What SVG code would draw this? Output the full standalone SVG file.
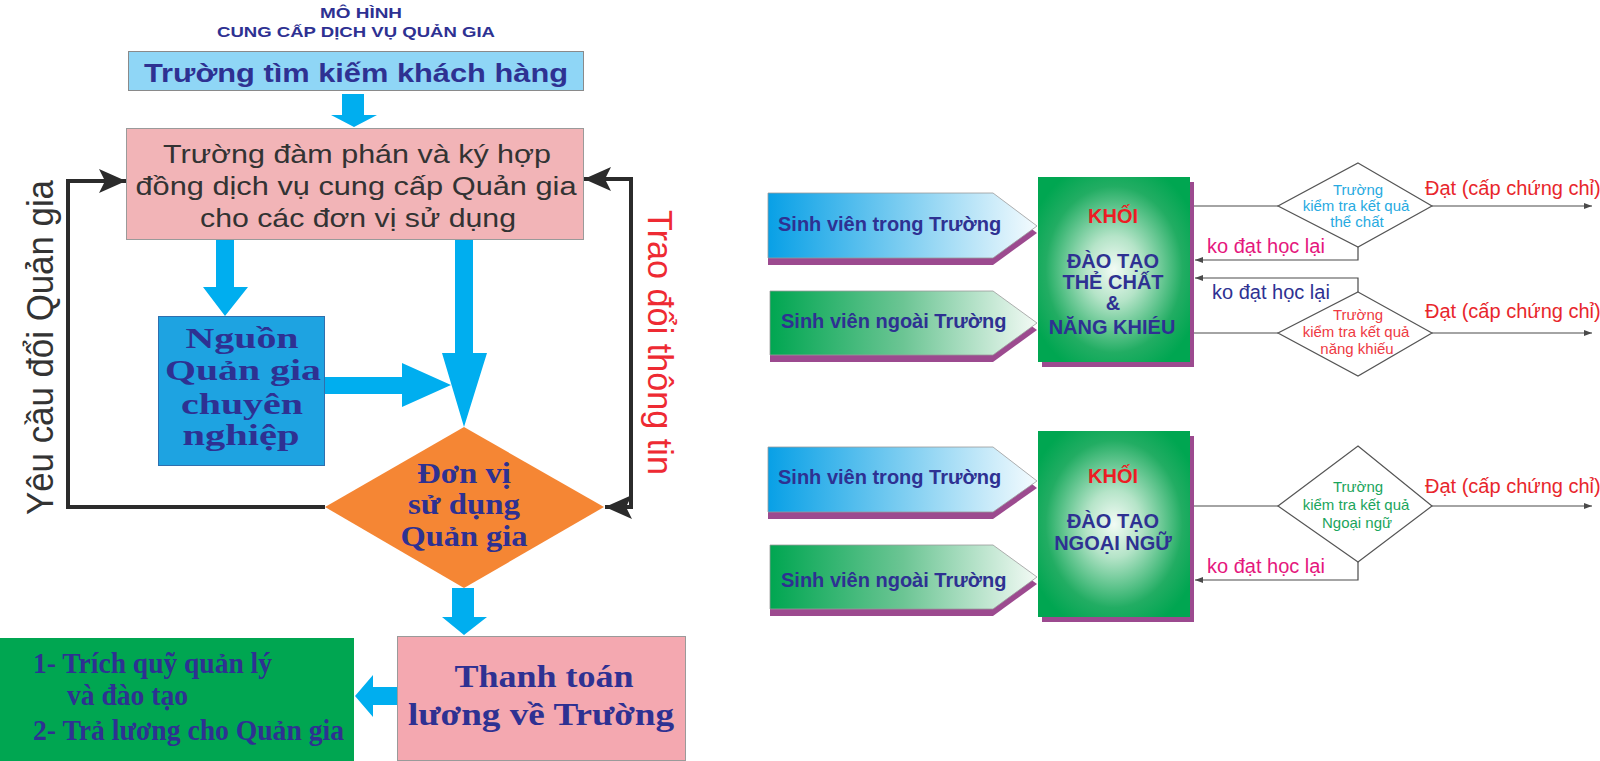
<svg xmlns="http://www.w3.org/2000/svg" width="1600" height="761" viewBox="0 0 1600 761">
<defs>
<style>
.sans{font-family:"Liberation Sans",Arial,sans-serif}
.serifb{font-family:"Liberation Serif","Times New Roman",serif;font-weight:bold;fill:#2e3192}
.navy{fill:#2e3192}
.blk{fill:none;stroke:#2b2b2b;stroke-width:4}
.thin{fill:none;stroke:#4a4a4a;stroke-width:1.2}
.blue{fill:#00aeef}
.shadow{fill:#9c4a8f}
.dia{fill:#fff;stroke:#555;stroke-width:1.2}
.dtxt{font-family:"Liberation Sans",Arial,sans-serif;font-size:15px;text-anchor:middle}
.dat{font-family:"Liberation Sans",Arial,sans-serif;font-size:20px;fill:#e8262c}
.ko{font-family:"Liberation Sans",Arial,sans-serif;font-size:20px}
.sv{font-family:"Liberation Sans",Arial,sans-serif;font-size:20px;font-weight:bold;fill:#2e3192}
.kh{font-family:"Liberation Sans",Arial,sans-serif;font-size:20px;font-weight:bold;text-anchor:middle}
</style>
<linearGradient id="gBlue" x1="0" y1="0" x2="1" y2="0">
<stop offset="0" stop-color="#08a0e6"/><stop offset="0.5" stop-color="#7ccdf1"/><stop offset="1" stop-color="#f4fbfe"/>
</linearGradient>
<linearGradient id="gGreen" x1="0" y1="0" x2="1" y2="0">
<stop offset="0" stop-color="#00a651"/><stop offset="0.5" stop-color="#6cc594"/><stop offset="1" stop-color="#f3faf5"/>
</linearGradient>
<radialGradient id="gBox" cx="0.5" cy="0.5" r="0.6">
<stop offset="0" stop-color="#f2fbf5"/><stop offset="0.3" stop-color="#b5e4c8"/><stop offset="0.75" stop-color="#22ad63"/><stop offset="1" stop-color="#00a651"/>
</radialGradient>
<marker id="mBlk" markerUnits="userSpaceOnUse" markerWidth="28" markerHeight="24" refX="27" refY="12" orient="auto">
<path d="M0,0 L27,12 L0,24 L6,12 Z" fill="#2b2b2b"/>
</marker>
<marker id="mThin" markerUnits="userSpaceOnUse" markerWidth="8" markerHeight="6" refX="8" refY="3" orient="auto">
<path d="M0,0 L8,3 L0,6 Z" fill="#4a4a4a"/>
</marker>
</defs>
<rect width="1600" height="761" fill="#fff"/>

<g id="title">
<text font-family="Liberation Sans, Arial, sans-serif" fill="#2e3192" x="361" y="18" font-size="15.5" font-weight="bold" text-anchor="middle" textLength="82" lengthAdjust="spacingAndGlyphs">MÔ HÌNH</text>
<text font-family="Liberation Sans, Arial, sans-serif" fill="#2e3192" x="356" y="37" font-size="15.5" font-weight="bold" text-anchor="middle" textLength="278" lengthAdjust="spacingAndGlyphs">CUNG CẤP DỊCH VỤ QUẢN GIA</text>
</g>

<g id="connectors">
<polygon class="blue" points="342,94 364,94 364,115 377,115 354,127 331,115 342,115"/>
<polygon class="blue" points="216,240 234,240 234,287 248,287 225,316 203,287 216,287"/>
<polygon class="blue" points="455,240 473,240 473,353 487,353 464,427 442,353 455,353"/>
<polygon class="blue" points="325,377 402,377 402,363 451,385 402,407 402,394 325,394"/>
<polygon class="blue" points="452,588 474,588 474,617 487,617 464,635 442,617 452,617"/>
<polygon class="blue" points="397,687 373,687 373,675 355,696 373,717 373,705 397,705"/>
<polyline class="blk" points="325,507 68,507 68,181 126,181" marker-end="url(#mBlk)"/>
<polyline class="blk" points="610,179 631,179 631,507 605,507" marker-end="url(#mBlk)"/>
<path class="blk" d="M612,179 L584,179" marker-end="url(#mBlk)"/>
<line class="thin" x1="1194" y1="206" x2="1278" y2="206"/>
<line class="thin" x1="1432" y1="206" x2="1592" y2="206" marker-end="url(#mThin)"/>
<polyline class="thin" points="1358,247 1358,260 1195,260" marker-end="url(#mThin)"/>
<polyline class="thin" points="1358,292 1358,278 1195,278" marker-end="url(#mThin)"/>
<line class="thin" x1="1194" y1="333" x2="1278" y2="333"/>
<line class="thin" x1="1432" y1="333" x2="1592" y2="333" marker-end="url(#mThin)"/>
<line class="thin" x1="1194" y1="506" x2="1278" y2="506"/>
<line class="thin" x1="1432" y1="506" x2="1592" y2="506" marker-end="url(#mThin)"/>
<polyline class="thin" points="1358,562 1358,580 1195,580" marker-end="url(#mThin)"/>
</g>

<g id="lbl-yeucau">
<text font-family="Liberation Sans, Arial, sans-serif" fill="#333" font-size="36" transform="translate(53,515) rotate(-90)" textLength="335" lengthAdjust="spacingAndGlyphs">Yêu cầu đổi Quản gia</text>
</g>
<g id="lbl-traodoi">
<text font-family="Liberation Sans, Arial, sans-serif" fill="#ee2a33" font-size="35" transform="translate(648,210) rotate(90)" textLength="265" lengthAdjust="spacingAndGlyphs">Trao đổi thông tin</text>
</g>

<g id="n-timkiem">
<rect x="128.5" y="51.5" width="455" height="39" fill="#8fd6f6" stroke="#8a8a8a" stroke-width="1"/>
<text font-family="Liberation Sans, Arial, sans-serif" fill="#2e3192" x="356" y="82" font-size="26" font-weight="bold" text-anchor="middle" textLength="424" lengthAdjust="spacingAndGlyphs">Trường tìm kiếm khách hàng</text>
</g>

<g id="n-dampham">
<rect x="126.5" y="128.5" width="457" height="111" fill="#f2b4b7" stroke="#9a9a9a" stroke-width="1"/>
<g font-family="Liberation Sans, Arial, sans-serif" fill="#333" font-size="26" text-anchor="middle">
<text x="357" y="163" textLength="388" lengthAdjust="spacingAndGlyphs">Trường đàm phán và ký hợp</text>
<text x="356" y="195" textLength="441" lengthAdjust="spacingAndGlyphs">đồng dịch vụ cung cấp Quản gia</text>
<text x="358" y="227" textLength="316" lengthAdjust="spacingAndGlyphs">cho các đơn vị sử dụng</text>
</g>
</g>

<g id="n-nguon">
<rect x="158.5" y="316.5" width="166" height="149" fill="#1ea3e1" stroke="#2f6fae" stroke-width="1"/>
<g class="serifb" font-size="30" text-anchor="middle">
<text x="242" y="348" textLength="113" lengthAdjust="spacingAndGlyphs">Nguồn</text>
<text x="243" y="380" textLength="156" lengthAdjust="spacingAndGlyphs">Quản gia</text>
<text x="242" y="414" textLength="122" lengthAdjust="spacingAndGlyphs">chuyên</text>
<text x="241" y="445" textLength="117" lengthAdjust="spacingAndGlyphs">nghiệp</text>
</g>
</g>

<g id="n-donvi">
<polygon points="464,427 604,507 464,588 325,507" fill="#f58634"/>
<g class="serifb" font-size="29" text-anchor="middle">
<text x="464" y="483" textLength="94" lengthAdjust="spacingAndGlyphs">Đơn vị</text>
<text x="464" y="514" textLength="112" lengthAdjust="spacingAndGlyphs">sử dụng</text>
<text x="464" y="546" textLength="127" lengthAdjust="spacingAndGlyphs">Quản gia</text>
</g>
</g>

<g id="n-thanhtoan">
<rect x="397.5" y="636.5" width="288" height="124" fill="#f4a8b0" stroke="#9a9a9a" stroke-width="1"/>
<g class="serifb" font-size="32" text-anchor="middle">
<text x="544" y="687" textLength="179" lengthAdjust="spacingAndGlyphs">Thanh toán</text>
<text x="541" y="725" textLength="266" lengthAdjust="spacingAndGlyphs">lương về Trường</text>
</g>
</g>

<g id="n-trichquy">
<rect x="0" y="638" width="354" height="123" fill="#00a651"/>
<g class="serifb" font-size="30">
<text x="33" y="673" textLength="239" lengthAdjust="spacingAndGlyphs">1- Trích quỹ quản lý</text>
<text x="67" y="705" textLength="121" lengthAdjust="spacingAndGlyphs">và đào tạo</text>
<text x="33" y="740" textLength="311" lengthAdjust="spacingAndGlyphs">2- Trả lương cho Quản gia</text>
</g>
</g>

<g id="sv-trong-1">
<polygon class="shadow" points="768,200 993,200 1037,233 993,265 768,265"/>
<polygon points="768,193 993,193 1037,226 993,258 768,258" fill="url(#gBlue)" stroke="#9a9a9a" stroke-width="0.8"/>
<text class="sv" x="778" y="231">Sinh viên trong Trường</text>
</g>
<g id="sv-ngoai-1">
<polygon class="shadow" points="770,298 993,298 1037,330 993,362 770,362"/>
<polygon points="770,291 993,291 1037,323 993,355 770,355" fill="url(#gGreen)" stroke="#9a9a9a" stroke-width="0.8"/>
<text class="sv" x="781" y="328">Sinh viên ngoài Trường</text>
</g>
<g id="khoi-thechat">
<rect class="shadow" x="1042" y="182" width="152" height="185"/>
<rect x="1038" y="177" width="152" height="185" fill="url(#gBox)"/>
<text class="kh" x="1113" y="223" fill="#ed1c24">KHỐI</text>
<g class="kh navy">
<text x="1113" y="268">ĐÀO TẠO</text>
<text x="1113" y="289">THẺ CHẤT</text>
<text x="1113" y="310">&amp;</text>
<text x="1112" y="334">NĂNG KHIÉU</text>
</g>
</g>
<g id="kt-thechat">
<polygon class="dia" points="1358,163 1432,206 1358,247 1278,206"/>
<g class="dtxt" fill="#27aae1">
<text x="1358" y="195">Trường</text>
<text x="1356" y="211">kiểm tra kết quả</text>
<text x="1357" y="227">thể chất</text>
</g>
</g>
<g id="kt-nangkhieu">
<polygon class="dia" points="1358,292 1432,333 1358,376 1278,333"/>
<g class="dtxt" fill="#ee3a43">
<text x="1358" y="320">Trường</text>
<text x="1356" y="337">kiểm tra kết quả</text>
<text x="1357" y="354">năng khiếu</text>
</g>
</g>
<g id="labels-1">
<text class="dat" x="1425" y="195">Đạt (cấp chứng chỉ)</text>
<text class="dat" x="1425" y="318">Đạt (cấp chứng chỉ)</text>
<text class="ko" x="1207" y="253" fill="#e5177d">ko đạt học lại</text>
<text class="ko" x="1212" y="299" fill="#2e3192">ko đạt học lại</text>
</g>

<g id="sv-trong-2">
<polygon class="shadow" points="768,454 993,454 1037,488 993,519 768,519"/>
<polygon points="768,447 993,447 1037,481 993,512 768,512" fill="url(#gBlue)" stroke="#9a9a9a" stroke-width="0.8"/>
<text class="sv" x="778" y="484">Sinh viên trong Trường</text>
</g>
<g id="sv-ngoai-2">
<polygon class="shadow" points="770,552 993,552 1037,584 993,616 770,616"/>
<polygon points="770,545 993,545 1037,577 993,609 770,609" fill="url(#gGreen)" stroke="#9a9a9a" stroke-width="0.8"/>
<text class="sv" x="781" y="587">Sinh viên ngoài Trường</text>
</g>
<g id="khoi-ngoaingu">
<rect class="shadow" x="1042" y="436" width="152" height="186"/>
<rect x="1038" y="431" width="152" height="186" fill="url(#gBox)"/>
<text class="kh" x="1113" y="483" fill="#ed1c24">KHỐI</text>
<g class="kh navy">
<text x="1113" y="528">ĐÀO TẠO</text>
<text x="1113" y="550">NGOẠI NGỮ</text>
</g>
</g>
<g id="kt-ngoaingu">
<polygon class="dia" points="1358,446 1432,506 1358,562 1278,506"/>
<g class="dtxt" fill="#1aa55c">
<text x="1358" y="492">Trường</text>
<text x="1356" y="510">kiểm tra kết quả</text>
<text x="1357" y="528">Ngoại ngữ</text>
</g>
</g>
<g id="labels-2">
<text class="dat" x="1425" y="493">Đạt (cấp chứng chỉ)</text>
<text class="ko" x="1207" y="573" fill="#e5177d">ko đạt học lại</text>
</g>
</svg>
